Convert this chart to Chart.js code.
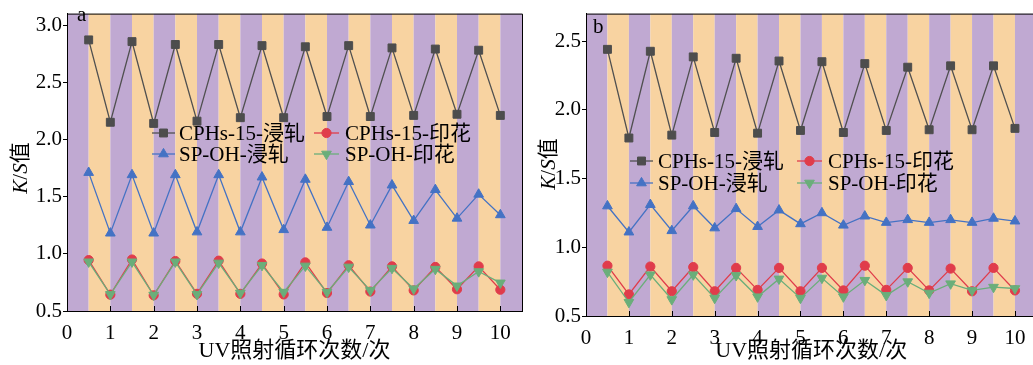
<!DOCTYPE html>
<html><head><meta charset="utf-8">
<script src="https://cdn.jsdelivr.net/npm/chart.js@4.4.1/dist/chart.umd.min.js"></script>
<style>
html,body{margin:0;padding:0;background:#fff;overflow:hidden;width:1033px;height:365px}
#ca{position:absolute;left:0;top:0}
#cb{position:absolute;left:533px;top:0}
</style></head><body>
<canvas id="ca" width="530" height="365"></canvas>
<canvas id="cb" width="510" height="365"></canvas>
<script>
// --- data ---
const CYCLES = [0.5, 1, 1.5, 2, 2.5, 3, 3.5, 4, 4.5, 5, 5.5, 6, 6.5, 7, 7.5, 8, 8.5, 9, 9.5, 10];
const X_TICKS = [0, 1, 2, 3, 4, 5, 6, 7, 8, 9, 10];
const A_Y_TICKS = [0.5, 1.0, 1.5, 2.0, 2.5, 3.0];
const B_Y_TICKS = [0.5, 1.0, 1.5, 2.0, 2.5];
const LABELS = ["CPHs-15-浸轧", "SP-OH-浸轧", "CPHs-15-印花", "SP-OH-印花"];
const X_TITLE = "UV照射循环次数/次";

const A_CPHS_DIP = [2.87, 2.15, 2.855, 2.14, 2.83, 2.16, 2.83, 2.19, 2.82, 2.19, 2.81, 2.20, 2.82, 2.20, 2.80, 2.21, 2.79, 2.22, 2.78, 2.21];
const A_SPOH_DIP = [1.71, 1.18, 1.69, 1.18, 1.69, 1.19, 1.69, 1.19, 1.67, 1.21, 1.65, 1.23, 1.63, 1.25, 1.60, 1.29, 1.56, 1.31, 1.52, 1.34];
const A_CPHS_PRINT = [0.945, 0.643, 0.95, 0.637, 0.937, 0.65, 0.94, 0.65, 0.915, 0.645, 0.925, 0.657, 0.90, 0.67, 0.89, 0.68, 0.885, 0.69, 0.89, 0.686];
const A_SPOH_PRINT = [0.93, 0.645, 0.93, 0.64, 0.93, 0.645, 0.92, 0.657, 0.90, 0.665, 0.894, 0.665, 0.885, 0.68, 0.874, 0.694, 0.866, 0.72, 0.845, 0.746];

const B_CPHS_DIP = [2.44, 1.795, 2.426, 1.816, 2.385, 1.835, 2.375, 1.83, 2.355, 1.85, 2.35, 1.835, 2.336, 1.85, 2.31, 1.855, 2.32, 1.855, 2.32, 1.865];
const B_SPOH_DIP = [1.30, 1.11, 1.31, 1.12, 1.30, 1.14, 1.28, 1.15, 1.27, 1.17, 1.25, 1.16, 1.226, 1.18, 1.20, 1.18, 1.20, 1.18, 1.21, 1.19];
const B_CPHS_PRINT = [0.866, 0.657, 0.86, 0.68, 0.856, 0.68, 0.85, 0.69, 0.85, 0.68, 0.85, 0.686, 0.866, 0.69, 0.85, 0.686, 0.845, 0.68, 0.85, 0.686];
const B_SPOH_PRINT = [0.82, 0.60, 0.80, 0.62, 0.80, 0.63, 0.795, 0.64, 0.77, 0.63, 0.776, 0.64, 0.76, 0.65, 0.75, 0.667, 0.735, 0.686, 0.71, 0.70];

// --- styles ---
const FONT = "'Liberation Serif', 'Noto Sans CJK SC', serif";
const PURPLE = "#c0a9d2", ORANGE = "#f8d3a1";
const STYLES = [
  { color: "#4d4d4d", line: "#505050", pointStyle: "rect", radius: 5.6, rotation: 0 },
  { color: "#4472c4", line: "#4472c4", pointStyle: "triangle", radius: 5.6, rotation: 0 },
  { color: "#e03c4b", line: "#e03c4b", pointStyle: "circle", radius: 4.6, rotation: 0 },
  { color: "#6aae7a", line: "#6aae7a", pointStyle: "triangle", radius: 5.6, rotation: 180 },
];
const DRAW_ORDER = [3, 1, 2, 0]; // lower order drawn on top

const pts = (ys) => ys.map((y, i) => ({ x: CYCLES[i], y }));

function drawMarker(ctx, s, x, y) {
  ctx.fillStyle = s.color; ctx.strokeStyle = s.color; ctx.lineWidth = 1;
  Chart.helpers.drawPoint(ctx, { pointStyle: s.pointStyle, radius: s.radius, rotation: s.rotation, borderWidth: 1 }, x, y);
}

const decor = {
  id: "decor",
  beforeDraw(chart) {
    const { ctx, chartArea: a, scales: { x } } = chart;
    ctx.save();
    ctx.beginPath(); ctx.rect(a.left, a.top, a.right - a.left, a.bottom - a.top); ctx.clip();
    for (let k = 0; k * 0.5 < x.max; k++) {
      const x0 = x.getPixelForValue(k * 0.5), x1 = x.getPixelForValue(k * 0.5 + 0.5);
      ctx.fillStyle = k % 2 ? ORANGE : PURPLE;
      ctx.fillRect(x0, a.top, x1 - x0, a.bottom - a.top);
    }
    ctx.restore();
  },
  afterDraw(chart, args, o) {
    const { ctx, chartArea: a, scales: { x } } = chart;
    ctx.save();
    ctx.strokeStyle = "#000"; ctx.lineWidth = 1;
    // frame top + right
    ctx.beginPath();
    ctx.moveTo(a.left, a.top + 0.5); ctx.lineTo(a.right + 0.5, a.top + 0.5); ctx.lineTo(a.right + 0.5, a.bottom);
    ctx.stroke();
    // inward x ticks
    ctx.beginPath();
    X_TICKS.forEach((v) => { const px = Math.round(x.getPixelForValue(v)) + 0.5; ctx.moveTo(px, a.bottom); ctx.lineTo(px, a.bottom - 5); });
    ctx.stroke();
    // x title
    ctx.fillStyle = "#000"; ctx.font = "22px " + FONT; ctx.textAlign = "center"; ctx.textBaseline = "middle";
    ctx.fillText(X_TITLE, (a.left + a.right) / 2, o.xTitleY);
    // y title K/S值
    const parts = [["K", true], ["/", false], ["S", true], ["值", false]];
    const f = (it) => (it ? "italic " : "") + "21px " + FONT;
    let w = 0; parts.forEach(([t, it]) => { ctx.font = f(it); w += ctx.measureText(t).width; });
    ctx.translate(o.yTitleX, o.yTitleY); ctx.rotate(-Math.PI / 2);
    ctx.textAlign = "left"; let cx = -w / 2;
    parts.forEach(([t, it]) => { ctx.font = f(it); ctx.fillText(t, cx, 0); cx += ctx.measureText(t).width; });
    ctx.setTransform(1, 0, 0, 1, 0, 0);
    // panel letter
    ctx.font = "21px " + FONT; ctx.textBaseline = "alphabetic"; ctx.textAlign = "left";
    ctx.fillText(o.letter, o.letterX, o.letterY);
    // legend
    ctx.font = "21px " + FONT; ctx.textBaseline = "middle";
    LABELS.forEach((lab, i) => {
      const col = i < 2 ? o.legCols[0] : o.legCols[1];
      const y = o.legRows[i % 2];
      const s = STYLES[i];
      ctx.strokeStyle = s.line; ctx.lineWidth = 1.3;
      ctx.beginPath(); ctx.moveTo(col.l0, y); ctx.lineTo(col.l1, y); ctx.stroke();
      drawMarker(ctx, s, (col.l0 + col.l1) / 2, y);
      ctx.fillStyle = "#000"; ctx.fillText(lab, col.t, y + 1);
    });
    ctx.restore();
  },
};

function makeChart(id, series, yTicks, yMax, lay) {
  const datasets = series.map((ys, i) => ({
    label: LABELS[i], data: pts(ys), order: DRAW_ORDER[i],
    borderColor: STYLES[i].line, borderWidth: 1.3, backgroundColor: STYLES[i].color,
    pointStyle: STYLES[i].pointStyle, pointRadius: STYLES[i].radius, pointRotation: STYLES[i].rotation,
    pointBorderWidth: 1, pointBorderColor: STYLES[i].color, pointBackgroundColor: STYLES[i].color, tension: 0,
  }));
  return new Chart(document.getElementById(id), {
    type: "line",
    data: { datasets },
    plugins: [decor],
    options: {
      responsive: false, animation: false, clip: false,
      layout: { padding: { top: lay.top, right: lay.right, left: 0, bottom: 0 } },
      plugins: { legend: { display: false }, tooltip: { enabled: false }, decor: lay },
      scales: {
        x: {
          type: "linear", min: 0, max: 10.5,
          afterBuildTicks: (s) => { s.ticks = X_TICKS.map((v) => ({ value: v })); },
          afterFit: (s) => { s.height = lay.xH; },
          grid: { display: false }, border: { display: true, color: "#000", width: 1 },
          ticks: { color: "#000", padding: 2, maxRotation: 0, font: { family: FONT, size: 21 } },
        },
        y: {
          type: "linear", min: 0.5, max: yMax,
          afterBuildTicks: (s) => { s.ticks = yTicks.map((v) => ({ value: v })); },
          afterFit: (s) => { s.width = lay.yW; },
          grid: { drawOnChartArea: false, drawTicks: true, tickLength: 4, color: "#000" },
          border: { display: true, color: "#000", width: 1 },
          ticks: { color: "#000", padding: 1, font: { family: FONT, size: 21 }, callback: (v) => v.toFixed(1) },
        },
      },
    },
  });
}

makeChart("ca", [A_CPHS_DIP, A_SPOH_DIP, A_CPHS_PRINT, A_SPOH_PRINT], A_Y_TICKS, 3.1, {
  top: 7, right: 8, xH: 54, yW: 67,
  xTitleY: 351, yTitleX: 21, yTitleY: 168, letter: "a", letterX: 77, letterY: 21,
  legCols: [{ l0: 152, l1: 175, t: 179 }, { l0: 314, l1: 339, t: 345 }], legRows: [133, 154],
});
makeChart("cb", [B_CPHS_DIP, B_SPOH_DIP, B_CPHS_PRINT, B_SPOH_PRINT], B_Y_TICKS, 2.7, {
  top: 12, right: 5, xH: 49, yW: 53,
  xTitleY: 351, yTitleX: 16, yTitleY: 164, letter: "b", letterX: 60, letterY: 33,
  legCols: [{ l0: 97, l1: 120, t: 125 }, { l0: 264, l1: 289, t: 295 }], legRows: [161, 183],
});
</script>
</body></html>
